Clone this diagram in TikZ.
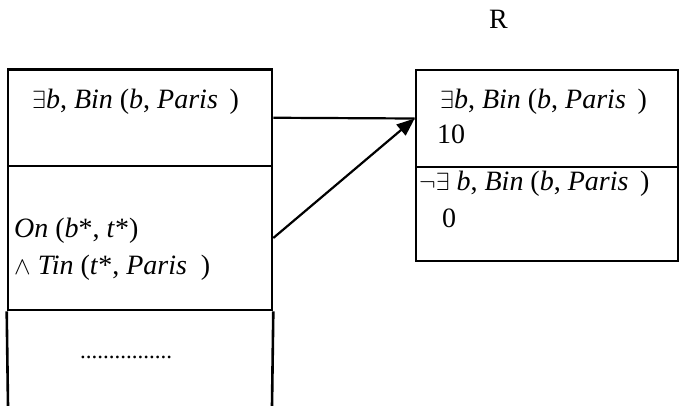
\documentclass[tikz,border=0pt]{standalone}
\usepackage{fontspec}
\setmainfont{Liberation Serif}
\usetikzlibrary{arrows.meta}
\begin{document}
\begin{tikzpicture}[x=1pt,y=-1pt,
  every node/.style={font=\fontsize{28}{33}\selectfont},
  cell/.style={draw,line width=2.6pt,inner sep=0pt,minimum width=#1},
  txt/.style={anchor=base west,inner sep=0pt},
  link/.style={line width=2.2pt}]
\useasboundingbox (0,0) rectangle (682,405);
% left column of states
\node[cell=264pt,minimum height=96.5pt] (lt) at (140,117.75) {};
\node[cell=264pt,minimum height=144pt] (lm) at (140,238) {};
\coordinate (lbl) at (8,406);
\coordinate (lbr) at (272,406);
\draw[line width=2.6pt] (lm.south west) -- (lbl) (lm.south east) -- (lbr);
% reward table
\node[cell=262pt,minimum height=97pt] (rt) at (547,118.5) {};
\node[cell=262pt,minimum height=94pt] (rb) at (547,214) {};
% labels
\node[txt] (r) at (489,28) {R};
\node[txt] (t1) at (32,108) {$\exists$\textit{b}, \textit{Bin} (\textit{b}, \textit{Paris}\ \,)};
\node[txt] (t2) at (14,237) {\textit{On} (\textit{b}*, \textit{t}*)};
\node[txt] (t3) at (14,274) {$\wedge$ \textit{Tin} (\textit{t}*, \textit{Paris}\ \ )};
\node[txt,font=\fontsize{23}{28}\selectfont] (t4) at (80,358) {................};
\node[txt] (t5) at (440,108) {$\exists$\textit{b}, \textit{Bin} (\textit{b}, \textit{Paris}\ \,)};
\node[txt] (t6) at (437,143) {10};
\node[txt] (t7) at (419,190) {$\neg\exists$ \textit{b}, \textit{Bin} (\textit{b}, \textit{Paris}\ \,)};
\node[txt] (t8) at (442,227) {0};
% transitions
\draw[link] (lt.east) -- (rt.west);
\draw[link,-{Triangle[length=18pt,width=14pt]}] (lm.east) -- (rt.west);
\end{tikzpicture}
\end{document}
